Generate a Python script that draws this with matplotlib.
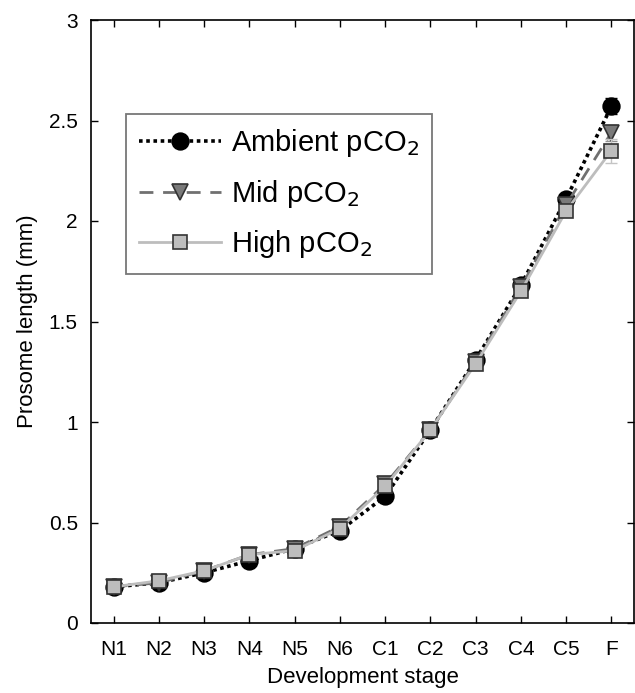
import numpy as np
import matplotlib.pyplot as plt
from matplotlib.lines import Line2D

plt.rcParams['font.family'] = ['Liberation Sans', 'DejaVu Sans']

stages = ['N1', 'N2', 'N3', 'N4', 'N5', 'N6', 'C1', 'C2', 'C3', 'C4', 'C5', 'F']

ambient = [0.18, 0.20, 0.25, 0.31, 0.37, 0.46, 0.63, 0.96, 1.31, 1.68, 2.11, 2.57]
ambient_err = [0.01, 0.01, 0.01, 0.01, 0.01, 0.01, 0.01, 0.01, 0.01, 0.01, 0.01, 0.04]
mid = [0.18, 0.20, 0.26, 0.34, 0.37, 0.48, 0.69, 0.96, 1.30, 1.67, 2.08, 2.44]
mid_err = [0.01, 0.01, 0.01, 0.01, 0.01, 0.01, 0.02, 0.01, 0.01, 0.01, 0.01, 0.04]
high = [0.18, 0.21, 0.26, 0.34, 0.36, 0.47, 0.68, 0.96, 1.29, 1.65, 2.05, 2.35]
high_err = [0.01, 0.01, 0.01, 0.01, 0.01, 0.01, 0.02, 0.01, 0.01, 0.01, 0.01, 0.06]

x = np.arange(1, len(stages) + 1)

# styles: (line colour, linestyle, lw, marker, ms, face, edge, errcolor)
styles = [
    ('black', (0, (1, 1)), 2.6, 'o', 12, 'black', 'black', 'black'),
    ('#707070', (0, (5, 3.5)), 2.0, 'v', 11, '#7a7a7a', '#333333', '#909090'),
    ('#bdbdbd', '-', 2.0, 's', 9.5, '#bdbdbd', '#333333', '#c4c4c4'),
]
series = [ambient, mid, high]
errs = [ambient_err, mid_err, high_err]
labels = ['Ambient pCO$_2$', 'Mid pCO$_2$', 'High pCO$_2$']

fig = plt.figure(figsize=(6.35, 6.93), dpi=100)
ax = fig.add_axes([91 / 635, 70 / 693, 543 / 635, 603 / 693])

handles = []
for i, (y, e, st, lab) in enumerate(zip(series, errs, styles, labels)):
    c, ls, lw, m, ms, fc, ec, erc = st
    ax.errorbar(x, y, yerr=e, fmt='none', ecolor=erc, elinewidth=1, capsize=4, zorder=2 + i)
    ax.plot(x, y, color=c, ls=ls, lw=lw, marker=m, ms=ms, mfc=fc, mec=ec, mew=1.2, zorder=3 + i)
    handles.append(Line2D([], [], color=c, ls=ls, lw=lw, marker=m, ms=ms, mfc=fc, mec=ec,
                          mew=1.2, label=lab))

ax.set_xlim(0.5, 12.5)
ax.set_ylim(0, 3)
ax.set_xticks(x)
ax.set_xticklabels(stages)
ax.set_yticks([0, 0.5, 1, 1.5, 2, 2.5, 3])
ax.set_yticklabels(['0', '0.5', '1', '1.5', '2', '2.5', '3'])
ax.tick_params(labelsize=15, direction='in', length=5, width=1,
               top=True, right=True)
ax.tick_params(axis='x', pad=12)
ax.tick_params(axis='y', pad=9.5)
ax.set_xlabel('Development stage', fontsize=16, labelpad=6)
ax.set_ylabel('Prosome length (mm)', fontsize=16, labelpad=8)
for s in ax.spines.values():
    s.set_linewidth(1.2)

leg = ax.legend(handles=handles, loc='upper left', bbox_to_anchor=(35 / 543, 509 / 603),
                borderaxespad=0, fontsize=21, frameon=True, fancybox=False,
                edgecolor='#555555', handlelength=2.8, borderpad=0.45,
                labelspacing=0.64, handletextpad=0.35)
leg.get_frame().set_linewidth(1.3)

plt.savefig('out.png', dpi=100)
